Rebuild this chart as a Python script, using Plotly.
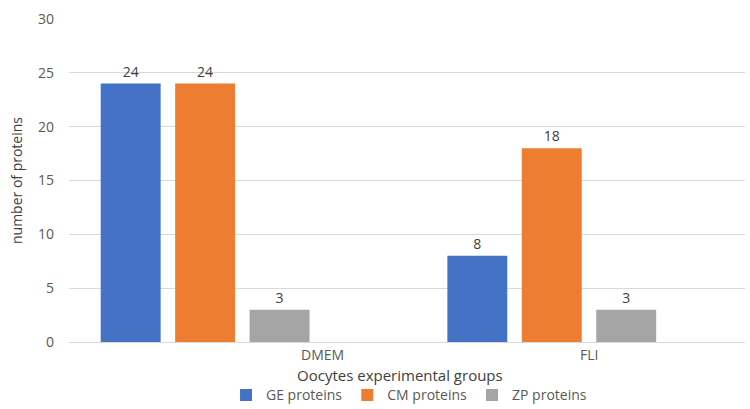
import plotly.graph_objects as go

categories = ["DMEM", "FLI"]
series_names = ["GE proteins", "CM proteins", "ZP proteins"]
ge_values = [24, 8]
cm_values = [24, 18]
zp_values = [3, 3]
colors = ["#4472C4", "#ED7D31", "#A5A5A5"]
y_ticks = [0, 5, 10, 15, 20, 25, 30]

font_family = "Open Sans, Liberation Sans, sans-serif"
text_color = "#404040"
tick_color = "#595959"

fig = go.Figure()
for name, vals, col in zip(series_names, [ge_values, cm_values, zp_values], colors):
    fig.add_trace(go.Bar(
        x=categories, y=vals, name=name,
        marker=dict(color=col, line=dict(width=0)),
        text=[str(v) for v in vals], textposition="outside",
        textfont=dict(size=14, color=text_color, family=font_family),
        cliponaxis=False,
    ))
# empty fourth slot (as in the source chart's layout)
fig.add_trace(go.Bar(x=categories, y=[None, None], showlegend=False, hoverinfo="skip"))

label_shift = [80, 0]
for cat, sh in zip(categories, label_shift):
    fig.add_annotation(x=cat, xref="x", y=0, yref="paper", yanchor="top",
                       yshift=-1, xshift=sh, text=cat, showarrow=False,
                       font=dict(size=14, color=tick_color, family=font_family))

fig.add_annotation(x=0.49, xref="paper", y=0, yref="paper", yanchor="top",
                   yshift=-21, text="Oocytes experimental groups", showarrow=False,
                   font=dict(size=15, color=text_color, family=font_family))

fig.update_layout(
    width=750, height=409,
    margin=dict(l=69, r=5, t=19, b=67, autoexpand=False),
    paper_bgcolor="white", plot_bgcolor="white",
    barmode="group", bargap=0.141, bargroupgap=0.195,
    font=dict(family=font_family, color=tick_color, size=14),
    uniformtext=dict(minsize=12, mode="show"),
    legend=dict(orientation="h", x=0.503, xanchor="center", y=-0.165, yanchor="middle",
                font=dict(size=14, color=tick_color), itemwidth=30,
                traceorder="normal", borderwidth=0, bgcolor="rgba(0,0,0,0)"),
    xaxis=dict(range=[-0.5, 1.45], showticklabels=False, showgrid=False,
               showline=False, zeroline=False, ticks=""),
    yaxis=dict(range=[0, 30], tickvals=y_ticks, showgrid=True, gridcolor="#D9D9D9",
               gridwidth=1, zeroline=True, zerolinecolor="#D9D9D9", zerolinewidth=1,
               showline=False, ticks="", ticklabelstandoff=14, automargin=False,
               tickfont=dict(size=14, color=tick_color),
               title=dict(text="number of proteins", standoff=12,
                          font=dict(size=14, color=text_color))),
)
fig.write_html("out.html")
